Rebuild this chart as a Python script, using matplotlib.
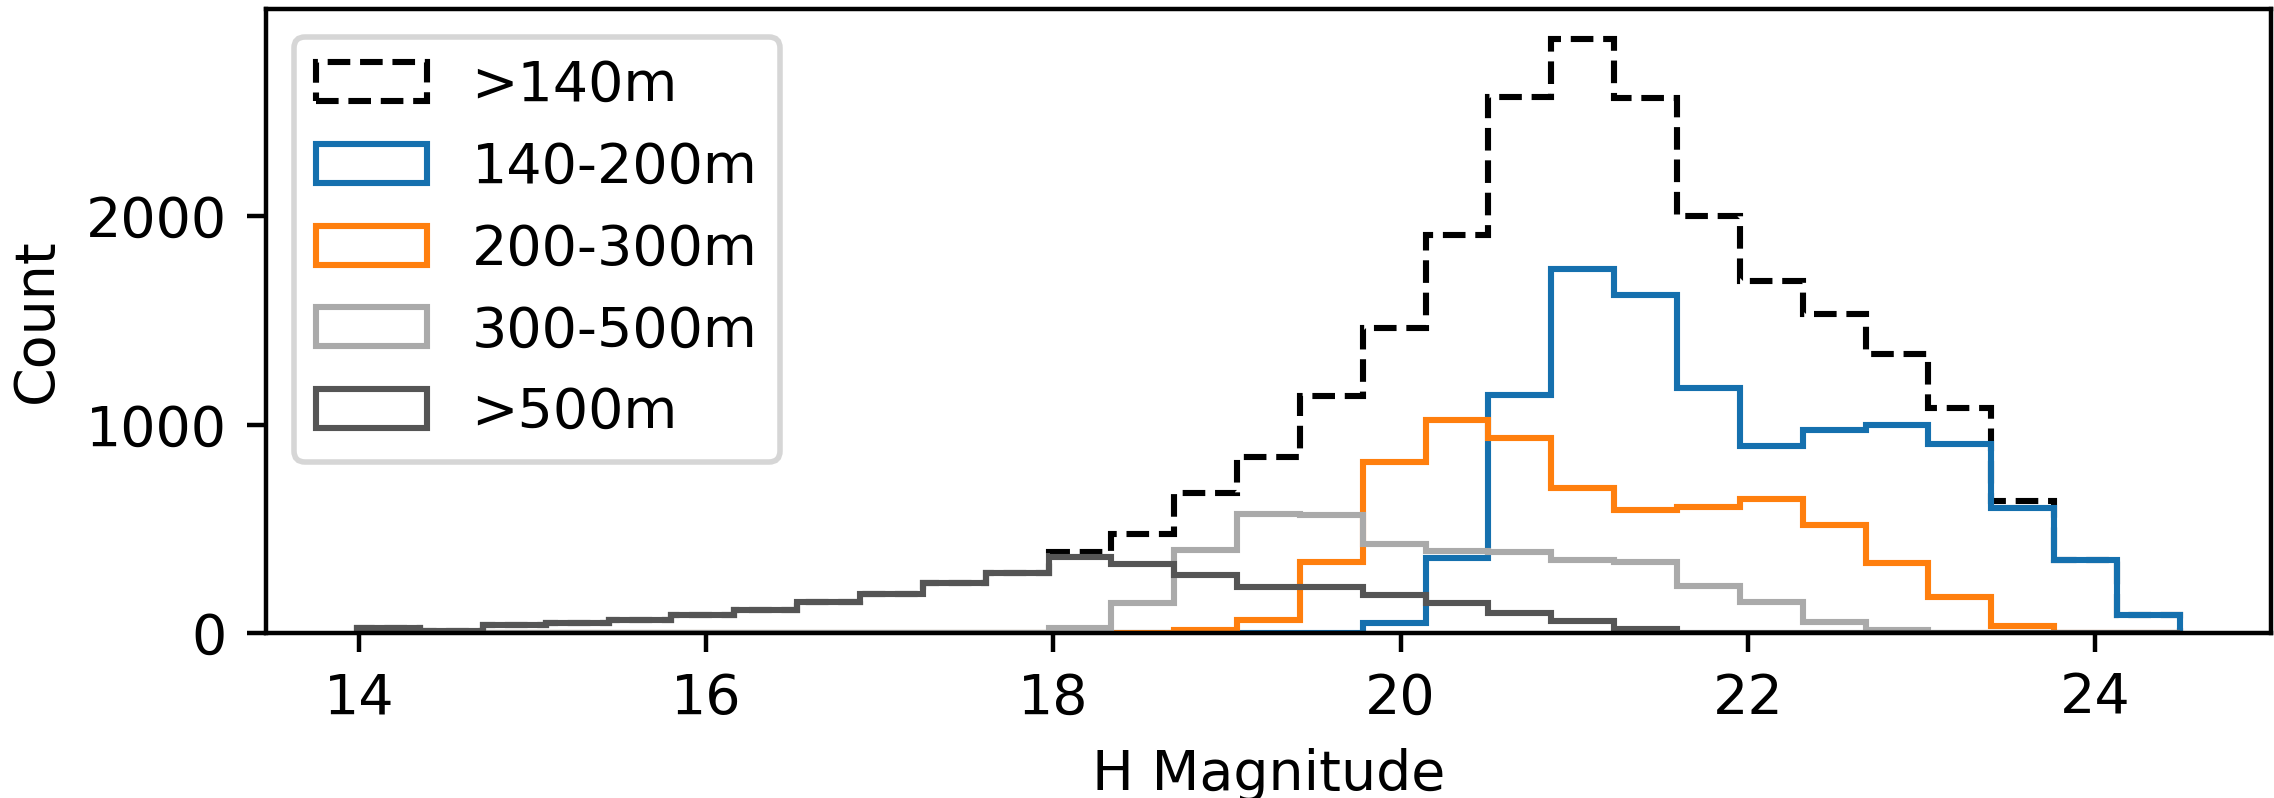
import numpy as np
import matplotlib
matplotlib.use("Agg")
import matplotlib.pyplot as plt

# Shared H-magnitude binning
H_MIN = 13.99
H_MAX = 24.488
N_BINS = 29

# Counts per bin for each diameter class
count_gt140 = [22, 8, 40, 49, 60, 86, 111, 151, 187, 240, 289,
               388, 475, 672, 846, 1138, 1462, 1912, 2571, 2852, 2568,
               2002, 1687, 1533, 1340, 1078, 633, 349, 84]
count_140_200 = [0, 0, 0, 0, 0, 0, 0, 0, 0, 0, 0, 0, 0, 0, 0, 0,
                 48, 362, 1140, 1749, 1622, 1178, 897, 972, 997, 909, 602, 349, 84]
count_200_300 = [0, 0, 0, 0, 0, 0, 0, 0, 0, 0, 0, 0, 0,
                 13, 62, 340, 820, 1024, 934, 694, 592, 605, 643, 516, 338, 174, 33,
                 0, 0]
count_300_500 = [0, 0, 0, 0, 0, 0, 0, 0, 0, 0, 0,
                 23, 146, 397, 569, 567, 427, 392, 390, 349, 340, 226, 148, 51, 13,
                 0, 0, 0, 0]
count_gt500 = [22, 8, 40, 49, 60, 86, 111, 151, 187, 240, 289,
               367, 329, 276, 221, 221, 182, 145, 97, 58, 20,
               0, 0, 0, 0, 0, 0, 0, 0]

labels = [">140m", "140-200m", "200-300m", "300-500m", ">500m"]
colors = ["black", "#1570ae", "#ff7f0e", "#aaaaaa", "#555555"]
styles = ["--", "-", "-", "-", "-"]
series = [count_gt140, count_140_200, count_200_300, count_300_500, count_gt500]

edges = np.linspace(H_MIN, H_MAX, N_BINS + 1)
centers = 0.5 * (edges[:-1] + edges[1:])

fig = plt.figure(figsize=(2274 / 400, 798 / 400), dpi=400)
ax = fig.add_axes([266 / 2274, 1 - 633 / 798, (2271 - 266) / 2274, (633 - 9) / 798])

for vals, lab, col, ls in zip(series, labels, colors, styles):
    ax.hist(centers, bins=edges, weights=vals, histtype="step",
            color=col, linestyle=ls, linewidth=1.1, label=lab)

ax.set_xlabel("H Magnitude")
ax.set_ylabel("Count")
ax.legend(loc="upper left")

fig.savefig("out.png", dpi=400)
